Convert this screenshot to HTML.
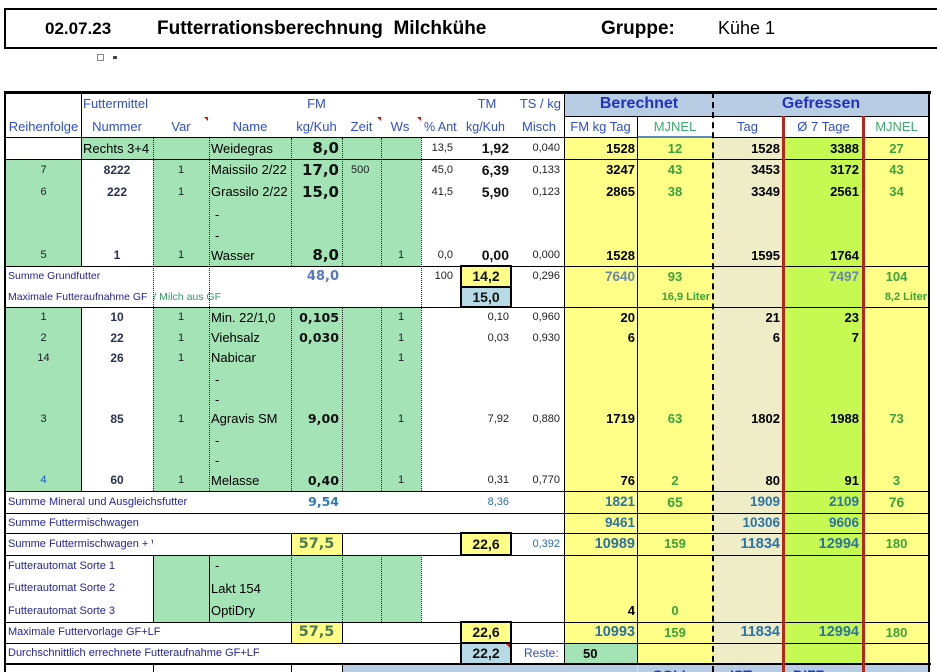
<!DOCTYPE html>
<html><head><meta charset="utf-8"><style>
*{margin:0;padding:0;box-sizing:border-box}
html{overflow:hidden;width:937px;height:672px}
body{width:937px;height:672px;overflow:hidden;background:#fff;position:relative;font-family:"Liberation Sans",Arial,sans-serif}
.b{position:absolute}
.c{position:absolute;white-space:nowrap}
.hl{position:absolute;height:1px;background:#000}
.vl{position:absolute;width:1px;background:#000}
.vd{position:absolute;width:0;border-left:1px dotted #222}
.h1{top:92px;height:24px;line-height:24px}
.h2{top:116px;height:22px;line-height:22px}
.r1{top:138px;height:21px;line-height:21px}
.r2{top:159px;height:22px;line-height:22px}
.r3{top:181px;height:22px;line-height:22px}
.r4{top:204px;height:21px;line-height:21px}
.r5{top:225px;height:21px;line-height:21px}
.r6{top:245px;height:21px;line-height:21px}
.s1{top:266px;height:21px;line-height:21px}
.s2{top:287px;height:20px;line-height:20px}
.m1{top:307px;height:21px;line-height:21px}
.m2{top:328px;height:20px;line-height:20px}
.m3{top:348px;height:20px;line-height:20px}
.m4{top:369px;height:21px;line-height:21px}
.m5{top:390px;height:20px;line-height:20px}
.m6{top:409px;height:20px;line-height:20px}
.m7{top:430px;height:21px;line-height:21px}
.m8{top:451px;height:20px;line-height:20px}
.m9{top:470px;height:21px;line-height:21px}
.t1{top:491px;height:22px;line-height:22px}
.t2{top:513px;height:20px;line-height:20px}
.t3{top:533px;height:22px;line-height:22px}
.f1{top:555px;height:22px;line-height:22px}
.f2{top:577px;height:23px;line-height:23px}
.f3{top:600px;height:22px;line-height:22px}
.g1{top:622px;height:21px;line-height:21px}
.g2{top:643px;height:21px;line-height:21px}
.cR{left:6px;width:75px;text-align:center}
.cN{left:81px;width:72px;text-align:center}
.cV{left:153px;width:56px;text-align:center}
.cNm{left:211px;width:80px}
.cFM{left:291px;width:48px;text-align:right}
.cFMc{left:291px;width:51px;text-align:center}
.cZ{left:351px;width:30px}
.cW{left:381px;width:40px;text-align:center}
.cA{left:421px;width:32px;text-align:right}
.cTM{left:461px;width:48px;text-align:right}
.cTMc{left:461px;width:50px;text-align:center}
.cTS{left:511px;width:49px;text-align:right}
.cFT{left:564px;width:71px;text-align:right}
.cMJ{left:637px;width:76px;text-align:center}
.cMJr{left:637px;width:73px;text-align:right}
.cT{left:713px;width:67px;text-align:right}
.cS{left:785px;width:74px;text-align:right}
.cM2{left:865px;width:63px;text-align:center}
.cM2r{left:865px;width:62px;text-align:right}
.sm{font-size:11px;color:#1e1e1e}
.nm{font-size:13px;color:#000}
.nu{font-size:12px;font-weight:bold;color:#28324f}
.fb{font-family:"DejaVu Sans",sans-serif;font-weight:bold;font-size:15px;color:#111}
.fm{font-family:"DejaVu Sans",sans-serif;font-weight:bold;font-size:12.6px;color:#111}
.tb{font-weight:bold;font-size:14px;color:#111}
.rb{font-weight:bold;font-size:13px;color:#000}
.gn{font-weight:bold;font-size:13px;color:#3aa33a}
.bl{font-weight:bold;font-size:13.5px;color:#2b72a8}
.bL{font-weight:bold;font-size:14.5px;color:#2b72a8}
.gb{font-weight:bold;font-size:13.5px;color:#6a86a8}
.lb{font-size:11px;color:#24249a;left:8px}
.hd{font-size:13px;color:#2f4fc8}
.tri{position:absolute;width:0;height:0;border-top:4px solid #d01010;border-left:4px solid transparent}
</style></head><body>

<!-- title -->
<div class="b" style="left:4px;top:8px;width:950px;height:41px;border:2px solid #000;border-right:none"></div>
<div class="c" style="left:45px;top:9px;height:39px;line-height:39px;font-size:17px;font-weight:bold">02.07.23</div>
<div class="c" style="left:157px;top:9px;height:39px;line-height:39px;font-size:19px;font-weight:bold;white-space:pre">Futterrationsberechnung  Milchkühe</div>
<div class="c" style="left:601px;top:9px;height:39px;line-height:39px;font-size:19px;font-weight:bold">Gruppe:</div>
<div class="c" style="left:718px;top:9px;height:39px;line-height:39px;font-size:18px">Kühe 1</div>
<div class="b" style="left:97px;top:54px;width:7px;height:7px;border:1px solid #888"></div>
<div class="b" style="left:113px;top:56px;width:4px;height:3px;background:#444"></div>

<!-- backgrounds -->
<div class="b" style="left:564px;top:93px;width:364px;height:23px;background:#b8cce4"></div>
<div class="b" style="left:6px;top:159px;width:75px;height:107px;background:#a3e3b6"></div>
<div class="b" style="left:6px;top:307px;width:75px;height:184px;background:#a3e3b6"></div>
<div class="b" style="left:81px;top:137px;width:72px;height:22px;background:#a3e3b6"></div>
<div class="b" style="left:153px;top:137px;width:268px;height:129px;background:#a3e3b6"></div>
<div class="b" style="left:153px;top:307px;width:268px;height:184px;background:#a3e3b6"></div>
<div class="b" style="left:153px;top:555px;width:268px;height:67px;background:#a3e3b6"></div>
<div class="b" style="left:564px;top:137px;width:149px;height:527px;background:#ffff88"></div>
<div class="b" style="left:713px;top:137px;width:69px;height:527px;background:#eeedc8"></div>
<div class="b" style="left:782px;top:137px;width:80px;height:527px;background:#c6fa52"></div>
<div class="b" style="left:862px;top:137px;width:66px;height:527px;background:#ffff88"></div>
<div class="b" style="left:564px;top:643px;width:73px;height:21px;background:#a3e3b6"></div>
<div class="b" style="left:342px;top:665px;width:586px;height:7px;background:#b8cce4"></div>
<div class="b" style="left:291px;top:533px;width:52px;height:23px;background:#ffff88;border:1px solid #000"></div>
<div class="b" style="left:291px;top:622px;width:52px;height:22px;background:#ffff88;border:1px solid #000"></div>
<div class="b" style="left:460px;top:265px;width:52px;height:23px;background:#ffff88;border:2px solid #000"></div>
<div class="b" style="left:460px;top:286px;width:52px;height:22px;background:#b7dbe6;border:2px solid #000"></div>
<div class="b" style="left:460px;top:532px;width:52px;height:24px;background:#ffff88;border:2px solid #000"></div>
<div class="b" style="left:460px;top:621px;width:52px;height:23px;background:#ffff88;border:2px solid #000"></div>
<div class="b" style="left:460px;top:642px;width:52px;height:23px;background:#b7dbe6;border:2px solid #000"></div>

<!-- horizontal lines -->
<div class="hl" style="left:4px;top:91px;width:927px;height:3px"></div>
<div class="hl" style="left:564px;top:116px;width:364px"></div>
<div class="hl" style="left:4px;top:137px;width:926px"></div>
<div class="hl" style="left:4px;top:159px;width:926px"></div>
<div class="hl" style="left:4px;top:266px;width:926px"></div>
<div class="hl" style="left:4px;top:307px;width:926px"></div>
<div class="hl" style="left:4px;top:491px;width:926px"></div>
<div class="hl" style="left:4px;top:513px;width:926px"></div>
<div class="hl" style="left:4px;top:533px;width:926px"></div>
<div class="hl" style="left:4px;top:555px;width:926px"></div>
<div class="hl" style="left:4px;top:622px;width:926px"></div>
<div class="hl" style="left:4px;top:643px;width:926px"></div>
<div class="hl" style="left:4px;top:663px;width:927px;height:2px"></div>
<div class="b" style="left:637px;top:116px;width:76px;height:22px;border-left:1px solid #5b8cc0;border-bottom:2px solid #5b8cc0"></div>

<!-- vertical lines -->
<div class="vl" style="left:4px;top:91px;width:2px;height:581px"></div>
<div class="vl" style="left:928px;top:91px;width:2px;height:581px"></div>
<div class="vl" style="left:81px;top:92px;height:174px"></div>
<div class="vl" style="left:81px;top:307px;height:184px"></div>
<div class="vd" style="left:153px;top:138px;height:353px"></div>
<div class="vl" style="left:153px;top:555px;height:67px"></div>
<div class="vl" style="left:153px;top:664px;height:8px"></div>
<div class="vd" style="left:209px;top:138px;height:353px"></div>
<div class="vl" style="left:209px;top:555px;height:67px"></div>
<div class="vd" style="left:291px;top:138px;height:128px"></div>
<div class="vd" style="left:291px;top:307px;height:184px"></div>
<div class="vd" style="left:291px;top:555px;height:67px"></div>
<div class="vl" style="left:291px;top:664px;height:8px"></div>
<div class="vd" style="left:342px;top:138px;height:128px"></div>
<div class="vd" style="left:342px;top:307px;height:184px"></div>
<div class="vd" style="left:342px;top:555px;height:67px"></div>
<div class="vl" style="left:342px;top:664px;height:8px"></div>
<div class="vd" style="left:381px;top:138px;height:128px"></div>
<div class="vd" style="left:381px;top:307px;height:184px"></div>
<div class="vd" style="left:381px;top:555px;height:67px"></div>
<div class="vd" style="left:421px;top:138px;height:353px"></div>
<div class="vd" style="left:421px;top:555px;height:67px"></div>
<div class="vl" style="left:564px;top:92px;height:572px"></div>
<div class="vl" style="left:637px;top:116px;height:548px"></div>
<div class="vl" style="left:637px;top:665px;height:7px;background:#d8e4f0"></div>
<div class="b" style="left:712px;top:92px;width:0;height:580px;border-left:2px dashed #000"></div>
<div class="vl" style="left:782px;top:116px;width:3px;height:556px;background:#b5261e"></div>
<div class="vl" style="left:862px;top:116px;width:3px;height:556px;background:#b5261e"></div>

<!-- comment triangles -->
<div class="tri" style="left:204px;top:117px"></div>
<div class="tri" style="left:377px;top:117px"></div>
<div class="tri" style="left:417px;top:117px"></div>
<div class="tri" style="left:506px;top:644px"></div>

<!-- header -->
<div class="c h1 hd" style="left:83px">Futtermittel</div>
<div class="c h1 hd cFMc">FM</div>
<div class="c h1 hd" style="left:475px;width:24px;text-align:center">TM</div>
<div class="c h1 hd" style="left:511px;width:50px;text-align:right">TS / kg</div>
<div class="c h1" style="left:564px;width:150px;text-align:center;font-size:16px;font-weight:bold;color:#2233bb">Berechnet</div>
<div class="c h1" style="left:713px;width:216px;text-align:center;font-size:16px;font-weight:bold;color:#2233bb">Gefressen</div>
<div class="c h2 hd cR">Reihenfolge</div>
<div class="c h2 hd cN">Nummer</div>
<div class="c h2 hd cV">Var</div>
<div class="c h2 hd" style="left:209px;width:82px;text-align:center">Name</div>
<div class="c h2 hd cFMc">kg/Kuh</div>
<div class="c h2 hd" style="left:342px;width:39px;text-align:center">Zeit</div>
<div class="c h2 hd" style="left:381px;width:38px;text-align:center">Ws</div>
<div class="c h2 hd" style="left:424px;font-size:12.5px">% Ant</div>
<div class="c h2 hd" style="left:466px;font-size:12.5px">kg/Kuh</div>
<div class="c h2 hd" style="left:511px;width:45px;text-align:right">Misch</div>
<div class="c h2 hd" style="left:564px;width:73px;text-align:center">FM kg Tag</div>
<div class="c h2 hd cMJ" style="color:#3caa6a">MJNEL</div>
<div class="c h2 hd" style="left:713px;width:69px;text-align:center">Tag</div>
<div class="c h2 hd" style="left:785px;width:77px;text-align:center">Ø 7 Tage</div>
<div class="c h2 hd cM2" style="color:#3caa6a">MJNEL</div>

<!-- Weidegras -->
<div class="c r1 nm" style="left:83px">Rechts 3+4</div>
<div class="c r1 nm cNm">Weidegras</div>
<div class="c r1 fb cFM">8,0</div>
<div class="c r1 sm cA">13,5</div>
<div class="c r1 tb cTM">1,92</div>
<div class="c r1 sm cTS">0,040</div>
<div class="c r1 rb cFT">1528</div>
<div class="c r1 gn cMJ">12</div>
<div class="c r1 rb cT">1528</div>
<div class="c r1 rb cS">3388</div>
<div class="c r1 gn cM2">27</div>

<!-- Maissilo -->
<div class="c r2 sm cR">7</div>
<div class="c r2 nu cN">8222</div>
<div class="c r2 sm cV">1</div>
<div class="c r2 nm cNm">Maissilo 2/22</div>
<div class="c r2 fb cFM">17,0</div>
<div class="c r2 sm cZ">500</div>
<div class="c r2 sm cA">45,0</div>
<div class="c r2 tb cTM">6,39</div>
<div class="c r2 sm cTS">0,133</div>
<div class="c r2 rb cFT">3247</div>
<div class="c r2 gn cMJ">43</div>
<div class="c r2 rb cT">3453</div>
<div class="c r2 rb cS">3172</div>
<div class="c r2 gn cM2">43</div>

<!-- Grassilo -->
<div class="c r3 sm cR">6</div>
<div class="c r3 nu cN">222</div>
<div class="c r3 sm cV">1</div>
<div class="c r3 nm cNm">Grassilo 2/22</div>
<div class="c r3 fb cFM">15,0</div>
<div class="c r3 sm cA">41,5</div>
<div class="c r3 tb cTM">5,90</div>
<div class="c r3 sm cTS">0,123</div>
<div class="c r3 rb cFT">2865</div>
<div class="c r3 gn cMJ">38</div>
<div class="c r3 rb cT">3349</div>
<div class="c r3 rb cS">2561</div>
<div class="c r3 gn cM2">34</div>

<div class="c r4 nm" style="left:215px">-</div>
<div class="c r5 nm" style="left:215px">-</div>

<!-- Wasser -->
<div class="c r6 sm cR">5</div>
<div class="c r6 nu cN">1</div>
<div class="c r6 sm cV">1</div>
<div class="c r6 nm cNm">Wasser</div>
<div class="c r6 fb cFM">8,0</div>
<div class="c r6 sm cW">1</div>
<div class="c r6 sm cA">0,0</div>
<div class="c r6 tb cTM">0,00</div>
<div class="c r6 sm cTS">0,000</div>
<div class="c r6 rb cFT">1528</div>
<div class="c r6 rb cT">1595</div>
<div class="c r6 rb cS">1764</div>

<!-- Summe Grundfutter -->
<div class="c s1 lb" style="font-size:10.5px">Summe Grundfutter</div>
<div class="c s1 cFM" style="font-family:'DejaVu Sans',sans-serif;font-weight:bold;font-size:13px;color:#5a78c0">48,0</div>
<div class="c s1 sm cA">100</div>
<div class="c s1 tb cTMc">14,2</div>
<div class="c s1 sm cTS">0,296</div>
<div class="c s1 gb cFT">7640</div>
<div class="c s1 gn cMJ">93</div>
<div class="c s1 gb cS">7497</div>
<div class="c s1 gn cM2">104</div>
<div class="c s2 lb" style="font-size:10.5px">Maximale Futteraufnahme GF &nbsp;<span style="color:#2ea060">/ Milch aus GF</span></div>
<div class="c s2 tb cTMc">15,0</div>
<div class="c s2 cMJr" style="font-weight:bold;font-size:11px;color:#3aa33a">16,9 Liter</div>
<div class="c s2 cM2r" style="font-weight:bold;font-size:11px;color:#3aa33a">8,2 Liter</div>

<!-- Mineral section -->
<div class="c m1 sm cR">1</div>
<div class="c m1 nu cN">10</div>
<div class="c m1 sm cV">1</div>
<div class="c m1 nm cNm">Min. 22/1,0</div>
<div class="c m1 fm cFM">0,105</div>
<div class="c m1 sm cW">1</div>
<div class="c m1 sm cTM">0,10</div>
<div class="c m1 sm cTS">0,960</div>
<div class="c m1 rb cFT">20</div>
<div class="c m1 rb cT">21</div>
<div class="c m1 rb cS">23</div>

<div class="c m2 sm cR">2</div>
<div class="c m2 nu cN">22</div>
<div class="c m2 sm cV">1</div>
<div class="c m2 nm cNm">Viehsalz</div>
<div class="c m2 fm cFM">0,030</div>
<div class="c m2 sm cW">1</div>
<div class="c m2 sm cTM">0,03</div>
<div class="c m2 sm cTS">0,930</div>
<div class="c m2 rb cFT">6</div>
<div class="c m2 rb cT">6</div>
<div class="c m2 rb cS">7</div>

<div class="c m3 sm cR">14</div>
<div class="c m3 nu cN">26</div>
<div class="c m3 sm cV">1</div>
<div class="c m3 nm cNm">Nabicar</div>
<div class="c m3 sm cW">1</div>

<div class="c m4 nm" style="left:215px">-</div>
<div class="c m5 nm" style="left:215px">-</div>

<div class="c m6 sm cR">3</div>
<div class="c m6 nu cN">85</div>
<div class="c m6 sm cV">1</div>
<div class="c m6 nm cNm">Agravis SM</div>
<div class="c m6 fm cFM">9,00</div>
<div class="c m6 sm cW">1</div>
<div class="c m6 sm cTM">7,92</div>
<div class="c m6 sm cTS">0,880</div>
<div class="c m6 rb cFT">1719</div>
<div class="c m6 gn cMJ">63</div>
<div class="c m6 rb cT">1802</div>
<div class="c m6 rb cS">1988</div>
<div class="c m6 gn cM2">73</div>

<div class="c m7 nm" style="left:215px">-</div>
<div class="c m8 nm" style="left:215px">-</div>

<div class="c m9 sm cR" style="color:#2050d0">4</div>
<div class="c m9 nu cN">60</div>
<div class="c m9 sm cV">1</div>
<div class="c m9 nm cNm">Melasse</div>
<div class="c m9 fm cFM">0,40</div>
<div class="c m9 sm cW">1</div>
<div class="c m9 sm cTM">0,31</div>
<div class="c m9 sm cTS">0,770</div>
<div class="c m9 rb cFT">76</div>
<div class="c m9 gn cMJ">2</div>
<div class="c m9 rb cT">80</div>
<div class="c m9 rb cS">91</div>
<div class="c m9 gn cM2">3</div>

<!-- Summe Mineral -->
<div class="c t1 lb">Summe Mineral und Ausgleichsfutter</div>
<div class="c t1 cFM" style="font-family:'DejaVu Sans',sans-serif;font-weight:bold;font-size:12.5px;color:#2f7ab8">9,54</div>
<div class="c t1 sm cTM" style="color:#2f6fb0">8,36</div>
<div class="c t1 bl cFT">1821</div>
<div class="c t1 gn cMJ" style="font-size:14px">65</div>
<div class="c t1 bl cT">1909</div>
<div class="c t1 bl cS">2109</div>
<div class="c t1 gn cM2" style="font-size:14px">76</div>

<div class="c t2 lb">Summe Futtermischwagen</div>
<div class="c t2 bl cFT">9461</div>
<div class="c t2 bl cT">10306</div>
<div class="c t2 bl cS">9606</div>

<div class="c t3 lb" style="width:145px;overflow:hidden">Summe Futtermischwagen + W</div>
<div class="c t3 cFMc" style="font-family:'DejaVu Sans',sans-serif;font-weight:bold;font-size:14.5px;color:#4d7a56">57,5</div>
<div class="c t3 tb cTMc">22,6</div>
<div class="c t3 sm cTS" style="color:#2f6fb0">0,392</div>
<div class="c t3 bL cFT">10989</div>
<div class="c t3 gn cMJ">159</div>
<div class="c t3 bL cT">11834</div>
<div class="c t3 bL cS">12994</div>
<div class="c t3 gn cM2">180</div>

<!-- Futterautomat -->
<div class="c f1 lb">Futterautomat Sorte 1</div>
<div class="c f1 nm" style="left:215px">-</div>
<div class="c f2 lb">Futterautomat Sorte 2</div>
<div class="c f2 nm cNm">Lakt 154</div>
<div class="c f3 lb">Futterautomat Sorte 3</div>
<div class="c f3 nm cNm">OptiDry</div>
<div class="c f3 rb cFT">4</div>
<div class="c f3 gn cMJ">0</div>

<!-- Maximale Futtervorlage -->
<div class="c g1 lb">Maximale Futtervorlage GF+LF</div>
<div class="c g1 cFMc" style="font-family:'DejaVu Sans',sans-serif;font-weight:bold;font-size:14.5px;color:#4d7a56">57,5</div>
<div class="c g1 tb cTMc">22,6</div>
<div class="c g1 bL cFT">10993</div>
<div class="c g1 gn cMJ">159</div>
<div class="c g1 bL cT">11834</div>
<div class="c g1 bL cS">12994</div>
<div class="c g1 gn cM2">180</div>

<!-- Durchschnittlich -->
<div class="c g2 lb">Durchschnittlich errechnete Futteraufnahme GF+LF</div>
<div class="c g2 tb cTMc">22,2</div>
<div class="c g2" style="left:524px;font-size:12px;color:#3050c0">Reste:</div>
<div class="c g2 rb" style="left:583px">50</div>

<!-- bottom partial row -->
<div class="c" style="left:653px;top:668px;line-height:14px;font-size:14px;font-weight:bold;color:#1f3fbf">SOLL</div>
<div class="c" style="left:730px;top:668px;line-height:14px;font-size:14px;font-weight:bold;color:#1f3fbf">IST</div>
<div class="c" style="left:793px;top:668px;line-height:14px;font-size:14px;font-weight:bold;color:#1f3fbf">DIFF</div>
<div class="c" style="left:897px;top:668px;line-height:14px;font-size:14px;font-weight:bold;color:#1f3fbf">+</div>

</body></html>
